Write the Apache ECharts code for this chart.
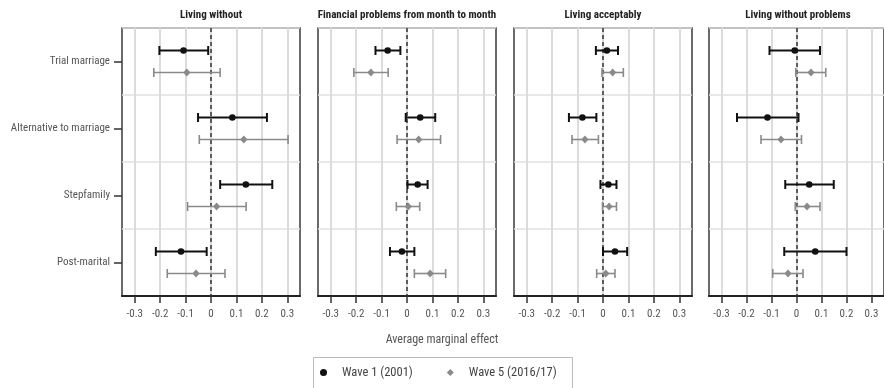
<!DOCTYPE html>
<html><head><meta charset="utf-8">
<script src="https://cdn.jsdelivr.net/npm/echarts@6/dist/echarts.min.js"></script>
<style>html,body{margin:0;padding:0;background:#fff}#c{width:884px;height:388px}</style>
</head><body><div id="c"></div>
<script>
const categories = ['Trial marriage','Alternative to marriage','Stepfamily','Post-marital'];
const panelTitles = ['Living without','Financial problems from month to month','Living acceptably','Living without problems'];
const tickValues = [-0.3,-0.2,-0.1,0,0.1,0.2,0.3];
const tickLabels = ['-0.3','-0.2','-0.1','0','0.1','0.2','0.3'];
const seriesNames = ['Wave 1 (2001)','Wave 5 (2016/17)'];
// rows = panels, columns = categories
const wave1Est  = [[-0.108,0.084,0.137,-0.118],[-0.076,0.052,0.042,-0.020],[0.015,-0.081,0.021,0.047],[-0.007,-0.116,0.051,0.075]];
const wave1Low  = [[-0.203,-0.051,0.036,-0.217],[-0.124,-0.005,0.002,-0.067],[-0.028,-0.134,-0.010,0.000],[-0.108,-0.238,-0.045,-0.049]];
const wave1High = [[-0.011,0.220,0.241,-0.017],[-0.026,0.111,0.081,0.029],[0.059,-0.026,0.053,0.095],[0.094,0.008,0.149,0.200]];
const wave5Est  = [[-0.095,0.129,0.022,-0.059],[-0.142,0.046,0.005,0.091],[0.038,-0.071,0.024,0.011],[0.058,-0.062,0.042,-0.034]];
const wave5Low  = [[-0.225,-0.046,-0.092,-0.172],[-0.209,-0.039,-0.042,0.029],[-0.004,-0.122,-0.002,-0.025],[-0.003,-0.142,-0.005,-0.095]];
const wave5High = [[0.036,0.303,0.138,0.055],[-0.074,0.132,0.050,0.152],[0.080,-0.018,0.053,0.047],[0.117,0.020,0.094,0.026]];

const FONT = "'Liberation Sans Narrow','Roboto Condensed','DejaVu Sans Condensed','Liberation Sans',sans-serif";
const lefts = [122, 318, 514, 709];
const GW = 178, GT = 28, GH = 268;
const colors = ['#111111', '#8a8a8a'];

function makeRender(offset, color, lw, shape) {
  return function (params, api) {
    const c = api.value(1);
    const y = api.coord([0, c])[1] + offset;
    const xe = api.coord([api.value(0), c])[0];
    const xl = api.coord([api.value(2), c])[0];
    const xh = api.coord([api.value(3), c])[0];
    const cap = 4.5;
    const st = { stroke: color, lineWidth: lw };
    const children = [
      { type: 'line', shape: { x1: xl, y1: y, x2: xh, y2: y }, style: st },
      { type: 'line', shape: { x1: xl, y1: y - cap, x2: xl, y2: y + cap }, style: st },
      { type: 'line', shape: { x1: xh, y1: y - cap, x2: xh, y2: y + cap }, style: st }
    ];
    if (shape === 'circle') children.push({ type: 'circle', shape: { cx: xe, cy: y, r: 3.3 }, style: { fill: color } });
    else children.push({ type: 'polygon', shape: { points: [[xe, y - 4], [xe + 3.6, y], [xe, y + 4], [xe - 3.6, y]] }, style: { fill: color } });
    return { type: 'group', children };
  };
}

const grids = [], xAxes = [], yAxes = [], series = [], titles = [];
for (let p = 0; p < 4; p++) {
  grids.push({ left: lefts[p], top: GT, width: GW, height: GH, show: true, borderColor: '#3a3a3a', borderWidth: 1.5, backgroundColor: 'transparent' });
  xAxes.push({
    type: 'value', gridIndex: p, min: -0.35, max: 0.35,
    axisLine: { show: true, onZero: false, lineStyle: { color: '#222', width: 2 } },
    axisTick: { show: true, customValues: tickValues, length: 7, lineStyle: { color: '#333', width: 1.5 } },
    axisLabel: { show: true, customValues: tickValues, margin: 13, color: '#555', fontSize: 11, fontFamily: FONT,
      formatter: v => { const i = tickValues.findIndex(t => Math.abs(t - v) < 1e-9); return i >= 0 ? tickLabels[i] : ''; } },
    splitLine: { show: true, lineStyle: { color: '#dcdcdc', width: 2 } }
  });
  yAxes.push({
    type: 'category', gridIndex: p, data: categories, inverse: true,
    axisLine: { show: false, onZero: false },
    axisTick: { show: p === 0, alignWithLabel: true, length: 8, lineStyle: { color: '#333', width: 1.5 } },
    axisLabel: { show: p === 0, color: '#555', fontSize: 11, fontFamily: FONT, margin: 12 },
    splitLine: { show: true, lineStyle: { color: '#e0e0e0', width: 1.5 } }
  });
  titles.push({ text: panelTitles[p], left: lefts[p] + GW / 2, top: 10, textAlign: 'center', padding: 0,
    textStyle: { fontSize: 11, fontWeight: 'bold', color: '#222', fontFamily: FONT } });
  const sets = [[wave1Est, wave1Low, wave1High], [wave5Est, wave5Low, wave5High]];
  for (let w = 0; w < 2; w++) {
    const [E, L, H] = sets[w];
    const data = categories.map((c, i) => [E[p][i], c, L[p][i], H[p][i]]);
    const s = {
      type: 'custom', name: seriesNames[w], xAxisIndex: p, yAxisIndex: p,
      itemStyle: { color: colors[w] },
      renderItem: makeRender(w === 0 ? -11 : 11, colors[w], w === 0 ? 2 : 1.6, w === 0 ? 'circle' : 'diamond'),
      encode: { x: 0, y: 1 },
      data, z: 5
    };
    if (w === 0) {
      s.markLine = { silent: true, symbol: ['none', 'none'], label: { show: false },
        lineStyle: { color: '#333', width: 1.5, type: [4, 3] }, data: [{ xAxis: 0 }] };
    }
    series.push(s);
  }
}

const chart = echarts.init(document.getElementById('c'), null, { renderer: 'canvas' });
chart.setOption({
  animation: false,
  backgroundColor: '#fff',
  title: titles,
  grid: grids, xAxis: xAxes, yAxis: yAxes, series,
  legend: {
    left: 320, top: 366, padding: 0, itemWidth: 7, itemHeight: 7, itemGap: 34,
    formatter: name => '{t|' + name + '}',
    textStyle: { fontSize: 12.5, color: '#444', fontFamily: FONT,
      rich: { t: { fontSize: 12.5, color: '#444', fontFamily: FONT, padding: [0, 0, 0, 10] } } },
    data: [{ name: seriesNames[0], icon: 'circle' }, { name: seriesNames[1], icon: 'diamond' }]
  },
  graphic: [
    { type: 'text', x: 442, y: 340, style: { text: 'Average marginal effect', align: 'center', verticalAlign: 'middle', fontSize: 12, fill: '#555', fontFamily: FONT } },
    { type: 'rect', shape: { x: 313.5, y: 357.5, width: 259, height: 40 }, style: { fill: 'none', stroke: '#bbbbbb', lineWidth: 1 } }
  ]
});
</script></body></html>
